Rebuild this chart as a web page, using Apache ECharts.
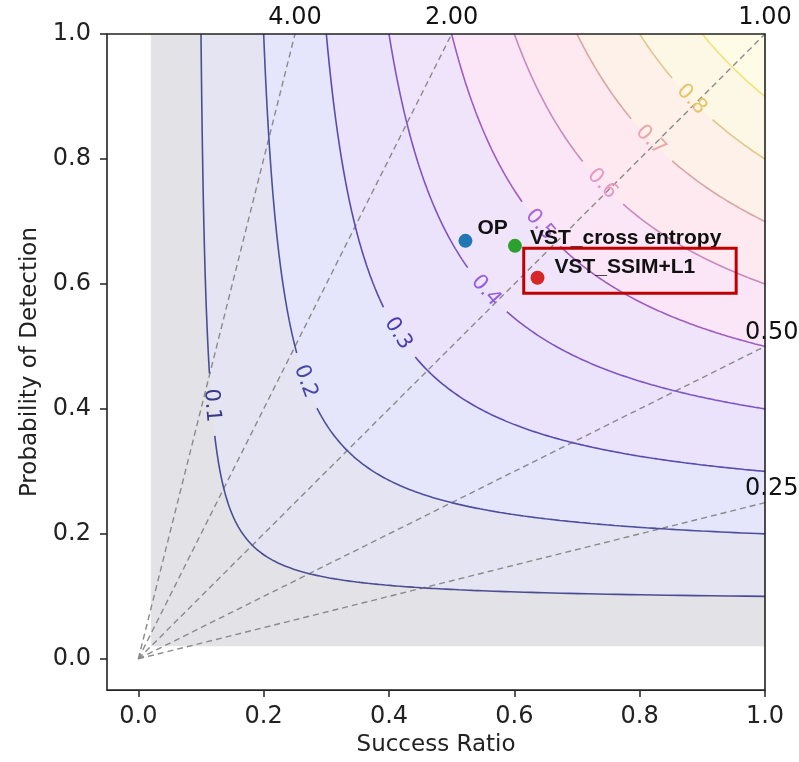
<!DOCTYPE html>
<html>
<head>
<meta charset="utf-8">
<script src="https://cdn.jsdelivr.net/npm/echarts@6/dist/echarts.min.js"></script>
<style>
html,body{margin:0;padding:0;background:#fff;}
#chart{width:799px;height:762px;}
</style>
</head>
<body>
<div id="chart"></div>
<script>
// ---- data ----
const csiLevels = [0.1, 0.2, 0.3, 0.4, 0.5, 0.6, 0.7, 0.8, 0.9];
const biasLevels = [4, 2, 1, 0.5, 0.25];
const labelRayBias = [3.46, 1.664, 1.257, 1.063, 1.084, 1.027, 1.015, 1.014, null];
const pointNames = ['OP', 'VST_cross entropy', 'VST_SSIM+L1'];
const pointSR = [0.522, 0.601, 0.637];
const pointPOD = [0.669, 0.661, 0.610];
const xTicks = [0, 0.2, 0.4, 0.6, 0.8, 1.0];
const yTicks = [0, 0.2, 0.4, 0.6, 0.8, 1.0];
const axisMin = -0.05, axisMax = 1.0;
const gridLow = 0.02;
const highlightBox = [0.615, 0.585, 0.954, 0.657];

// ---- styles ----
const bandColors = ['#e3e3e7', '#e4e4f3', '#e5e5fb', '#eae3fb', '#f0e4fb', '#fae6f6', '#fde9ef', '#fdf1e9', '#fdf7e5', '#fefbe6'];
const lineColors = ['#4c4c92', '#4e4e9e', '#5a4cae', '#7f55c2', '#a05cc0', '#c889bd', '#d9a6a6', '#e2c68c', '#efe27a'];
const labelColors = ['#3a3a86', '#4646a8', '#4a3cb0', '#9060e0', '#a868d8', '#e898c4', '#e8aaa8', '#e8c468', '#efe27a'];
const pointColors = ['#1f77b4', '#2ca02c', '#d62728'];
const pointLabelOffset = [[12, -13], [15, -8], [17, -10]];
const FONT = 'DejaVu Sans';

function curvePoint(c, b) {
  const K = 1 / c + 1;
  return [Math.min(1, (1 + 1 / b) / K), Math.min(1, (b + 1) / K)];
}
function csiCurve(c, n) {
  const a0 = Math.atan(c), a1 = Math.atan(1 / c);
  const pts = [];
  for (let i = 0; i <= n; i++) {
    const b = Math.tan(a0 + (a1 - a0) * i / n);
    pts.push(curvePoint(c, b));
  }
  return pts;
}

const series = [];

// filled bands
series.push({
  type: 'custom', coordinateSystem: 'cartesian2d', z: 1, silent: true, animation: false,
  data: bandColors.map((_, i) => [0, 0]),
  renderItem: function (params, api) {
    const i = params.dataIndex;
    let pts;
    if (i === 0) {
      pts = [[gridLow, gridLow], [1, gridLow], [1, 1], [gridLow, 1]];
    } else {
      pts = csiCurve(csiLevels[i - 1], 300).concat([[1, 1]]);
    }
    return { type: 'polygon', shape: { points: pts.map(p => api.coord(p)) }, style: { fill: bandColors[i] } };
  }
});

// bias dashed lines
biasLevels.forEach(b => {
  series.push({
    type: 'line', z: 3, silent: true, animation: false, symbol: 'none',
    data: [[0, 0], [Math.min(1, 1 / b), Math.min(1, b)]],
    lineStyle: { color: '#8a8a8a', width: 1.4, type: [6, 4] }
  });
});

// contour lines with gaps for labels
const gapHalf = 0.046;
csiLevels.forEach((c, k) => {
  const pts = csiCurve(c, 400);
  const segs = [];
  let cur = [];
  const lb = labelRayBias[k];
  const L = lb ? curvePoint(c, lb) : null;
  pts.forEach(p => {
    if (L && Math.hypot(p[0] - L[0], p[1] - L[1]) < gapHalf) {
      if (cur.length) { segs.push(cur); cur = []; }
    } else cur.push(p);
  });
  if (cur.length) segs.push(cur);
  segs.forEach(s => series.push({
    type: 'line', z: 4, silent: true, animation: false, symbol: 'none',
    data: s, lineStyle: { color: lineColors[k], width: 1.6 }
  }));
});

// contour labels
series.push({
  type: 'custom', coordinateSystem: 'cartesian2d', z: 5, silent: true, animation: false,
  data: csiLevels.map(() => [0, 0]),
  renderItem: function (params, api) {
    const k = params.dataIndex;
    const lb = labelRayBias[k];
    if (!lb) return null;
    const p = api.coord(curvePoint(csiLevels[k], lb));
    return {
      type: 'text', x: p[0], y: p[1], rotation: -Math.atan(lb * lb),
      style: { text: csiLevels[k].toFixed(1), fill: labelColors[k], font: '21px "' + FONT + '"', align: 'center', verticalAlign: 'middle' }
    };
  }
});

// bias labels
series.push({
  type: 'custom', coordinateSystem: 'cartesian2d', z: 5, silent: true, animation: false,
  data: biasLevels.map(() => [0, 0]),
  renderItem: function (params, api) {
    const b = biasLevels[params.dataIndex];
    const p = api.coord([Math.min(1, 1 / b), Math.min(1, b)]);
    const top = b >= 1;
    return {
      type: 'text', x: top ? p[0] : p[0] - 20, y: top ? p[1] - 16 : p[1] - 14,
      style: { text: b.toFixed(2), fill: '#111', font: '24px "' + FONT + '"', align: top ? 'center' : 'left', verticalAlign: 'middle' }
    };
  }
});

// points
pointNames.forEach((n, i) => {
  series.push({
    type: 'scatter', z: 6, animation: false, name: n,
    data: [[pointSR[i], pointPOD[i]]], symbolSize: 14,
    itemStyle: { color: pointColors[i], opacity: 1 }
  });
});

// point labels
series.push({
  type: 'custom', coordinateSystem: 'cartesian2d', z: 7, silent: true, animation: false,
  data: pointNames.map(() => [0, 0]),
  renderItem: function (params, api) {
    const i = params.dataIndex;
    const p = api.coord([pointSR[i], pointPOD[i]]);
    return {
      type: 'text', x: p[0] + pointLabelOffset[i][0], y: p[1] + pointLabelOffset[i][1],
      style: { text: pointNames[i], fill: '#111', font: 'bold 21px "Liberation Sans"', align: 'left', verticalAlign: 'middle' }
    };
  }
});

// highlight box
series.push({
  type: 'custom', coordinateSystem: 'cartesian2d', z: 8, silent: true, animation: false,
  data: [[0, 0]],
  renderItem: function (params, api) {
    const a = api.coord([highlightBox[0], highlightBox[3]]);
    const b = api.coord([highlightBox[2], highlightBox[1]]);
    return {
      type: 'rect', shape: { x: a[0], y: a[1], width: b[0] - a[0], height: b[1] - a[1] },
      style: { fill: 'none', stroke: '#c00000', lineWidth: 3 }
    };
  }
});

// frame (axes box) on top of fills
series.push({
  type: 'custom', coordinateSystem: 'cartesian2d', z: 9, silent: true, animation: false,
  data: [[0, 0]],
  renderItem: function (params, api) {
    const a = api.coord([axisMin, axisMax]);
    const b = api.coord([axisMax, axisMin]);
    return {
      type: 'rect', shape: { x: a[0], y: a[1], width: b[0] - a[0], height: b[1] - a[1] },
      style: { fill: 'none', stroke: '#222', lineWidth: 1.6 }
    };
  }
});

const chart = echarts.init(document.getElementById('chart'), null, { renderer: 'canvas' });
chart.setOption({
  animation: false,
  backgroundColor: '#fff',
  grid: { left: 107, right: 34, top: 34, bottom: 70, show: false },
  xAxis: {
    type: 'value', min: axisMin, max: axisMax,
    name: 'Success Ratio', nameLocation: 'middle', nameGap: 43,
    nameTextStyle: { fontFamily: FONT, fontSize: 23, color: '#222' },
    axisLine: { show: false, onZero: false }, splitLine: { show: false },
    axisTick: { show: true, length: 7, customValues: xTicks, lineStyle: { color: '#222', width: 1.5 } },
    axisLabel: { customValues: xTicks, margin: 15, fontFamily: FONT, fontSize: 24, color: '#222', formatter: v => v.toFixed(1) }
  },
  yAxis: {
    type: 'value', min: axisMin, max: axisMax,
    name: 'Probability of Detection', nameLocation: 'middle', nameGap: 62,
    nameTextStyle: { fontFamily: FONT, fontSize: 23, color: '#222' },
    axisLine: { show: false, onZero: false }, splitLine: { show: false },
    axisTick: { show: true, length: 7, customValues: yTicks, lineStyle: { color: '#222', width: 1.5 } },
    axisLabel: { customValues: yTicks, margin: 16, fontFamily: FONT, fontSize: 24, color: '#222', formatter: v => v.toFixed(1) }
  },
  series: series
});
</script>
</body>
</html>
